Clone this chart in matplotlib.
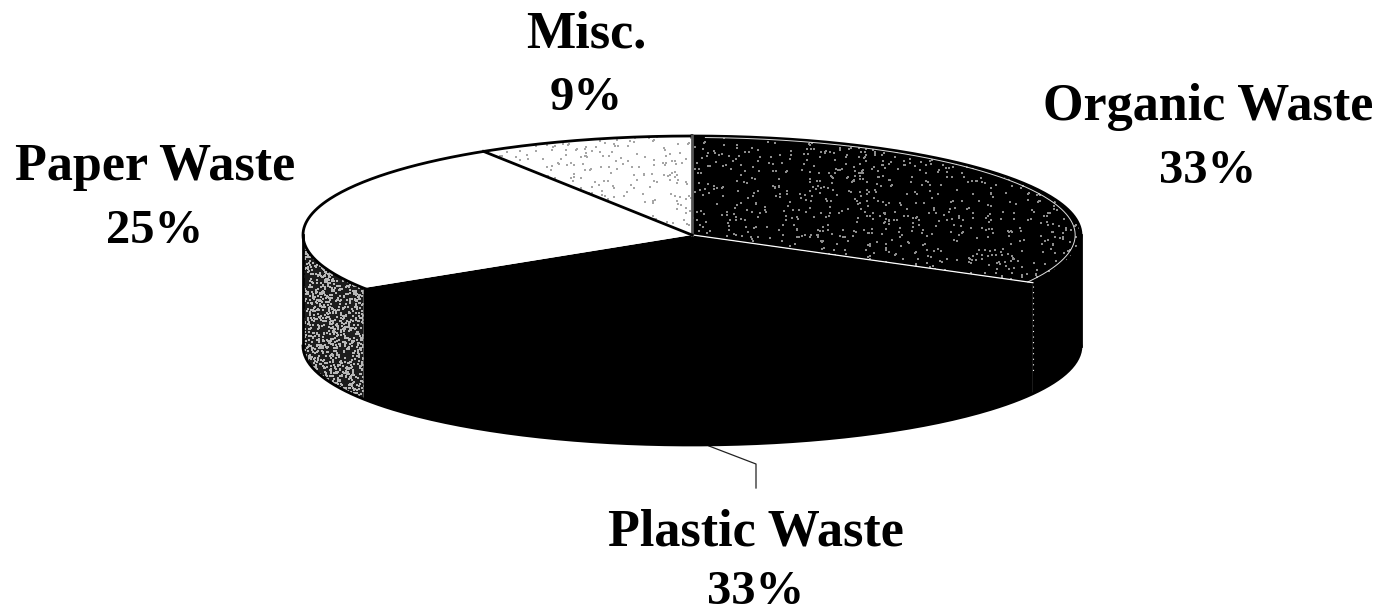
import numpy as np
import matplotlib
matplotlib.use("Agg")
import matplotlib.pyplot as plt
from matplotlib.patches import Polygon

# Waste composition, clockwise from twelve o'clock
categories = ["Organic Waste", "Plastic Waste", "Paper Waste", "Misc."]
shares = [33, 33, 25, 9]

top_colors = ["#000000", "#000000", "#ffffff", "#ffffff"]
wall_colors = ["#000000", "#000000", "#1c1c1c", "#ffffff"]

plt.rcParams["font.family"] = ["Liberation Serif", "DejaVu Serif"]

CX, CY, RX, RY, DEPTH = 692, 235, 389, 99, 111

fig = plt.figure(figsize=(13.81, 6.16), dpi=100)
ax = fig.add_axes([0, 0, 1, 1])
ax.set_xlim(0, 1381)
ax.set_ylim(616, 0)
ax.axis("off")


def rim(theta):
    """Point on the top ellipse; theta is clockwise degrees from twelve o'clock."""
    t = np.radians(theta)
    return CX + RX * np.sin(t), CY - RY * np.cos(t)


def stipple(xs, ys, count, color, size, zorder):
    """Print-style speckle over a closed outline, from a fixed sine hash."""
    poly = Polygon(np.c_[xs, ys], closed=True, transform=ax.transData)
    n = np.arange(1, count + 1)
    u = (np.sin(n * 12.9898) * 43758.5453) % 1
    v = (np.sin(n * 78.233) * 24634.6345) % 1
    sc = ax.scatter(xs.min() + u * np.ptp(xs), ys.min() + v * np.ptp(ys), s=size,
                    c=color, marker="s", linewidths=0, zorder=zorder)
    sc.set_clip_path(poly)


edges = np.concatenate([[0], np.cumsum(shares)]) / sum(shares) * 360

# Side wall: only the front half of the disc (90..270 degrees) is visible
for i in range(len(shares)):
    a, b = max(edges[i], 90), min(edges[i + 1], 270)
    if a >= b:
        continue
    th = np.linspace(a, b, 120)
    x, y = rim(th)
    wx, wy = np.r_[x, x[::-1]], np.r_[y, y[::-1] + DEPTH]
    ax.fill(wx, wy, facecolor=wall_colors[i], lw=0.0, zorder=2)
    if categories[i] == "Paper Waste":
        stipple(wx, wy, 1300, "#b8b8b8", 0.6, 2.5)

# Top face slices
for i in range(len(shares)):
    th = np.linspace(edges[i], edges[i + 1], 160)
    x, y = rim(th)
    sx, sy = np.r_[CX, x], np.r_[CY, y]
    ax.fill(sx, sy, facecolor=top_colors[i], lw=0.0, zorder=3)
    if categories[i] == "Organic Waste":
        stipple(sx, sy, 1000, "#8c8c8c", 0.6, 3.5)
    elif categories[i] == "Misc.":
        stipple(sx, sy, 320, "#a6a6a6", 0.6, 3.5)

# Outlines of the disc
th = np.linspace(0, 360, 500)
x, y = rim(th)
ax.plot(x, y, color="black", lw=2.0, zorder=4)
th = np.linspace(90, 270, 200)
x, y = rim(th)
ax.plot(x, y + DEPTH, color="black", lw=2.0, zorder=4)
xl, yl = rim(270)
ax.plot([xl, xl], [yl, yl + DEPTH], color="black", lw=2.0, zorder=4)
xr, yr = rim(90)
ax.plot([xr, xr], [yr, yr + DEPTH], color="black", lw=2.0, zorder=4)

# Slice borders: light around the dark organic slice, dark between paper and misc.
x1, y1 = rim(edges[1])
th = np.linspace(edges[0] + 2, edges[1], 160)
xa, ya = rim(th)
inset = 0.985
ax.plot(CX + (xa - CX) * inset, CY + (ya - CY) * inset, color="#e0e0e0", lw=0.7, zorder=5)
ax.plot([CX + 1, x1], [CY, y1], color="white", lw=0.9, zorder=5)
ax.plot([CX, CX], [CY, CY - RY], color="#555555", lw=2.0, zorder=5)
x3, y3 = rim(edges[3])
ax.plot([CX, x3], [CY, y3], color="black", lw=2.0, zorder=5)
ax.plot([x1, x1], [y1 + 3, y1 + 88], color="white", lw=0.8, ls=(0, (1, 4)), zorder=5)

# Leader line for the plastic label
ax.plot([709, 756, 756], [446, 464, 488], color="#222222", lw=0.9, zorder=1)

# Slice labels: name above percentage, placed by baseline
label_pos = {"Organic Waste": (1208, 120, 183), "Plastic Waste": (756, 546, 604),
             "Paper Waste": (155, 180, 243), "Misc.": (586, 47, 110)}
for name, share in zip(categories, shares):
    lx, y_name, y_pct = label_pos[name]
    ax.text(lx, y_name, name, ha="center", va="baseline", fontsize=37.5,
            fontweight="bold", color="black")
    ax.text(lx, y_pct, f"{share}%", ha="center", va="baseline", fontsize=35,
            fontweight="bold", color="black")

fig.savefig("out.png", dpi=100, facecolor="white")
